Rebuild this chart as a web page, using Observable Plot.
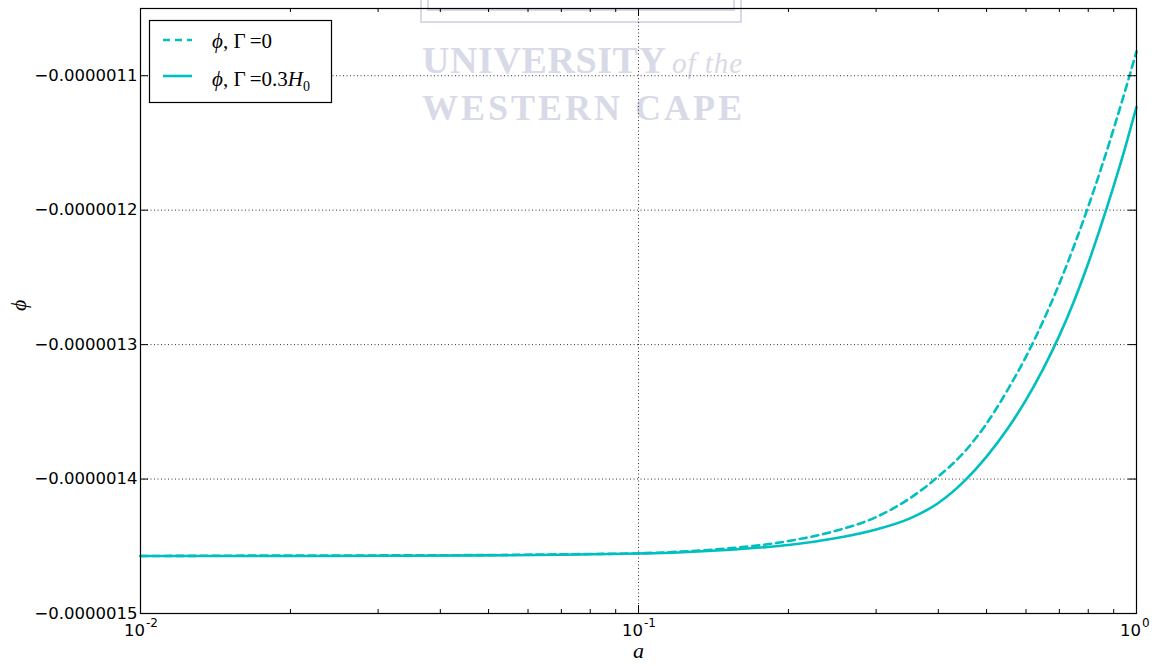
<!DOCTYPE html>
<html><head><meta charset="utf-8">
<script src="https://cdn.jsdelivr.net/npm/d3@7"></script>
<script src="https://cdn.jsdelivr.net/npm/@observablehq/plot@0.6"></script>
<style>
body{margin:0;background:#fff}
#chart{width:1158px;height:666px}
</style>
</head><body><div id="chart"></div>
<script>
// ---- data ----
const aValues = [0.01, 0.02, 0.03, 0.05, 0.07, 0.1, 0.12, 0.15, 0.18, 0.2, 0.25, 0.3, 0.35, 0.4, 0.45, 0.5, 0.55, 0.6, 0.65, 0.7, 0.75, 0.8, 0.85, 0.9, 0.95, 1.0];
// phi for Gamma = 0 (dashed)
const phiGamma0 = [-14.5725e-7, -14.569e-7, -14.568e-7, -14.565e-7, -14.560e-7, -14.552e-7, -14.541e-7, -14.517e-7, -14.487e-7, -14.461e-7, -14.383e-7, -14.283e-7, -14.145e-7, -13.981e-7, -13.803e-7, -13.587e-7, -13.342e-7, -13.089e-7, -12.822e-7, -12.546e-7, -12.261e-7, -11.973e-7, -11.684e-7, -11.394e-7, -11.105e-7, -10.820e-7];
// phi for Gamma = 0.3 H0 (solid)
const phiGamma03 = [-14.5725e-7, -14.572e-7, -14.571e-7, -14.568e-7, -14.563e-7, -14.554e-7, -14.546e-7, -14.528e-7, -14.506e-7, -14.491e-7, -14.439e-7, -14.375e-7, -14.294e-7, -14.178e-7, -14.019e-7, -13.833e-7, -13.630e-7, -13.411e-7, -13.178e-7, -12.933e-7, -12.672e-7, -12.395e-7, -12.108e-7, -11.820e-7, -11.529e-7, -11.232e-7];

const yTicks = [-1.5e-6, -1.4e-6, -1.3e-6, -1.2e-6, -1.1e-6];
const yDomain = [-1.5e-6, -1.05e-6];
const xTicks = [0.01, 0.1, 1];
const xTickBase = ["10", "10", "10"];
const xTickExponents = ["-2", "-1", "0"];
const xMinorTicks = [0.02, 0.03, 0.04, 0.05, 0.06, 0.07, 0.08, 0.09, 0.2, 0.3, 0.4, 0.5, 0.6, 0.7, 0.8, 0.9];
const xDomain = [0.01, 1];
const lineColor = "#00BFBF";

// ---- layout ----
const W = 1158, H = 666, mL = 140, mR = 22, mT = 8, mB = 53;
const fw = W - mL - mR, fh = H - mT - mB;
const majorLen = 8, minorLen = 4;

const rows0 = aValues.map((a, i) => ({a, phi: phiGamma0[i]}));
const rows03 = aValues.map((a, i) => ({a, phi: phiGamma03[i]}));

const fmtY = d => "\u2212" + Math.abs(d).toFixed(7);
const grid = {stroke: "#000", strokeWidth: 1, strokeDasharray: "1,2.5", strokeOpacity: 0.8};
const tickStyle = {stroke: "#000", strokeWidth: 1};

const plot = Plot.plot({
  width: W, height: H,
  marginLeft: mL, marginRight: mR, marginTop: mT, marginBottom: mB,
  style: {fontFamily: "DejaVu Sans", fontSize: "16.5px", background: "#fff", color: "#000"},
  x: {type: "log", domain: xDomain, axis: null},
  y: {domain: yDomain, ticks: yTicks, tickFormat: fmtY, tickSize: 0, tickPadding: 3, label: null},
  marks: [
    Plot.ruleY(yTicks, {y: d => d, ...grid}),
    Plot.ruleX(xTicks, {x: d => d, ...grid}),
    Plot.line(rows03, {x: "a", y: "phi", stroke: lineColor, strokeWidth: 2.6, curve: "monotone-x"}),
    Plot.line(rows0, {x: "a", y: "phi", stroke: lineColor, strokeWidth: 2.6, strokeDasharray: "7,5", curve: "monotone-x"}),
    // inward ticks, bottom & top
    Plot.tickX(xTicks, {x: d => d, insetTop: fh - majorLen, ...tickStyle}),
    Plot.tickX(xTicks, {x: d => d, insetBottom: fh - majorLen, ...tickStyle}),
    Plot.tickX(xMinorTicks, {x: d => d, insetTop: fh - minorLen, ...tickStyle}),
    Plot.tickX(xMinorTicks, {x: d => d, insetBottom: fh - minorLen, ...tickStyle}),
    // inward ticks, left & right
    Plot.tickY(yTicks, {y: d => d, insetRight: fw - majorLen, ...tickStyle}),
    Plot.tickY(yTicks, {y: d => d, insetLeft: fw - majorLen, ...tickStyle}),
    Plot.frame({stroke: "#000", strokeWidth: 1.2}),
    // x tick labels 10^n
    Plot.text(xTicks, {x: d => d, frameAnchor: "bottom", text: (d, i) => xTickBase[i], dy: 22.5, dx: -6, fontSize: 16.5}),
    Plot.text(xTicks, {x: d => d, frameAnchor: "bottom", text: (d, i) => xTickExponents[i], dy: 13, dx: 5.5, textAnchor: "start", fontSize: 12}),
    // axis labels
    Plot.text(["a"], {frameAnchor: "bottom", text: d => d, dy: 44.5, fontFamily: "Liberation Serif", fontStyle: "italic", fontSize: 22}),
    Plot.text(["\u03D5"], {frameAnchor: "left", text: d => d, dx: -122, rotate: -90, fontFamily: "Liberation Serif", fontStyle: "italic", fontSize: 22})
  ]
});
document.getElementById("chart").appendChild(plot);

// ---- watermark (behind everything) ----
const svg = d3.select(plot);
const wmColor = "#d8dae8";
const wm = svg.insert("g", ":first-child").attr("fill", wmColor).attr("text-anchor", "start");
wm.append("rect").attr("x", 421).attr("y", -6).attr("width", 320).attr("height", 28).attr("fill", "none").attr("stroke", wmColor).attr("stroke-width", 2);
wm.append("rect").attr("x", 428).attr("y", -6).attr("width", 306).attr("height", 16).attr("fill", "none").attr("stroke", wmColor).attr("stroke-width", 2);
wm.append("text").attr("x", 422).attr("y", 73).attr("font-family", "Liberation Serif").attr("font-weight", "bold")
  .attr("font-size", 38).attr("textLength", 244).attr("lengthAdjust", "spacing").text("UNIVERSITY");
wm.append("text").attr("x", 672).attr("y", 73).attr("font-family", "Liberation Serif").attr("font-style", "italic")
  .attr("font-size", 29).attr("textLength", 70).attr("lengthAdjust", "spacing").text("of the");
wm.append("text").attr("x", 422).attr("y", 120).attr("font-family", "Liberation Serif").attr("font-weight", "bold")
  .attr("font-size", 36).attr("textLength", 320).attr("lengthAdjust", "spacing").text("WESTERN CAPE");

// ---- legend ----
const lg = svg.append("g").attr("text-anchor", "start");
lg.append("rect").attr("x", 149.5).attr("y", 20.5).attr("width", 182).attr("height", 82)
  .attr("fill", "#fff").attr("stroke", "#000").attr("stroke-width", 1.2);
lg.append("line").attr("x1", 163).attr("x2", 192).attr("y1", 40).attr("y2", 40)
  .attr("stroke", lineColor).attr("stroke-width", 2.6).attr("stroke-dasharray", "7,5");
lg.append("line").attr("x1", 163).attr("x2", 192).attr("y1", 76).attr("y2", 76)
  .attr("stroke", lineColor).attr("stroke-width", 2.6);
const t1 = lg.append("text").attr("x", 212).attr("y", 48).attr("font-family", "Liberation Serif").attr("font-size", 21);
t1.append("tspan").attr("font-style", "italic").text("\u03D5");
t1.append("tspan").text(", \u0393\u2009=0");
const t2 = lg.append("text").attr("x", 212).attr("y", 86).attr("font-family", "Liberation Serif").attr("font-size", 21);
t2.append("tspan").attr("font-style", "italic").text("\u03D5");
t2.append("tspan").text(", \u0393\u2009=0.3");
t2.append("tspan").attr("font-style", "italic").text("H");
t2.append("tspan").attr("font-size", 14).attr("dy", 5).text("0");
</script>
</body></html>
